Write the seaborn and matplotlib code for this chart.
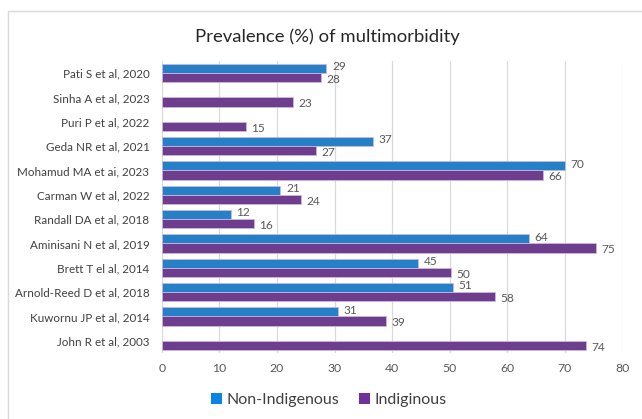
import numpy as np
import pandas as pd
import matplotlib
matplotlib.use("Agg")
import matplotlib.pyplot as plt
from matplotlib.patches import Rectangle, Patch
import seaborn as sns

studies = ["Pati S et al, 2020", "Sinha A et al, 2023", "Puri P et al, 2022",
           "Geda NR et al, 2021", "Mohamud MA et ai, 2023", "Carman W et al, 2022",
           "Randall DA et al, 2018", "Aminisani N et al, 2019", "Brett T el al, 2014",
           "Arnold-Reed D et al, 2018", "Kuwornu JP et al, 2014", "John R et al, 2003"]
non_indigenous = [28.6, np.nan, np.nan, 36.7, 70.0, 20.6, 12.0, 63.8, 44.6, 50.6, 30.6, np.nan]
indigenous = [27.7, 22.8, 14.6, 26.8, 66.3, 24.2, 16.0, 75.4, 50.3, 57.9, 38.9, 73.7]
series_names = ["Non-Indigenous", "Indiginous"]
xticks = [0, 10, 20, 30, 40, 50, 60, 70, 80]

df = pd.DataFrame({
    "study": studies * 2,
    "value": non_indigenous + indigenous,
    "group": [series_names[0]] * len(studies) + [series_names[1]] * len(studies),
})

sns.set_theme(style="white")
plt.rcParams["font.family"] = ["Lato", "DejaVu Sans"]

colors = {"Non-Indigenous": "#0A83E2", "Indiginous": "#71309B"}
fig = plt.figure(figsize=(6.42, 4.19), dpi=100)
ax = fig.add_axes([162 / 642, 1 - 353 / 419, (622 - 162) / 642, (353 - 61) / 419])

sns.barplot(data=df, y="study", x="value", hue="group", order=studies,
            hue_order=series_names, palette=colors, orient="h", width=0.76,
            ax=ax, legend=False, edgecolor="#C9B8E0", linewidth=0.6)

offsets = [1.3, -1.3]
for cont, dy in zip(ax.containers, offsets):
    vals = cont.datavalues
    labels = ["" if np.isnan(v) else f"{v:.0f}" for v in vals]
    texts = ax.bar_label(cont, labels=labels, padding=4, fontsize=8.6, color="#595959")
    for t in texts:
        t.xyann = (4, dy)

ax.set_xlim(0, 80)
ax.set_xticks(xticks)
ax.set_xticklabels([str(t) for t in xticks])
ax.set_xlabel("")
ax.set_ylabel("")
ax.grid(axis="x", color="#D9D9D9", linewidth=0.9)
ax.grid(axis="y", visible=False)
ax.set_axisbelow(True)
for s in ax.spines.values():
    s.set_visible(False)
ax.tick_params(axis="x", length=0, pad=7, labelsize=8.8, labelcolor="#595959")
ax.tick_params(axis="y", length=0, pad=9, labelsize=8.4, labelcolor="#404040")

fig.text(327 / 642, 1 - 37 / 419, "Prevalence (%) of multimorbidity",
         ha="center", va="center", fontsize=13.3, color="#262626")

handles = [Patch(facecolor=colors[n], edgecolor="none") for n in series_names]
fig.legend(handles, series_names, loc="center", bbox_to_anchor=(329 / 642, 1 - 400 / 419),
           ncol=2, frameon=False, fontsize=11.5, handlelength=0.7, handleheight=0.7,
           handletextpad=0.3, columnspacing=1.2, labelcolor="#404040")

fig.add_artist(Rectangle((8 / 642, -0.1), 1.2, (1 - 11 / 419) + 0.1,
                         transform=fig.transFigure, fill=False,
                         edgecolor="#D9D9D9", linewidth=1.0))

fig.savefig("out.png", dpi=100)
